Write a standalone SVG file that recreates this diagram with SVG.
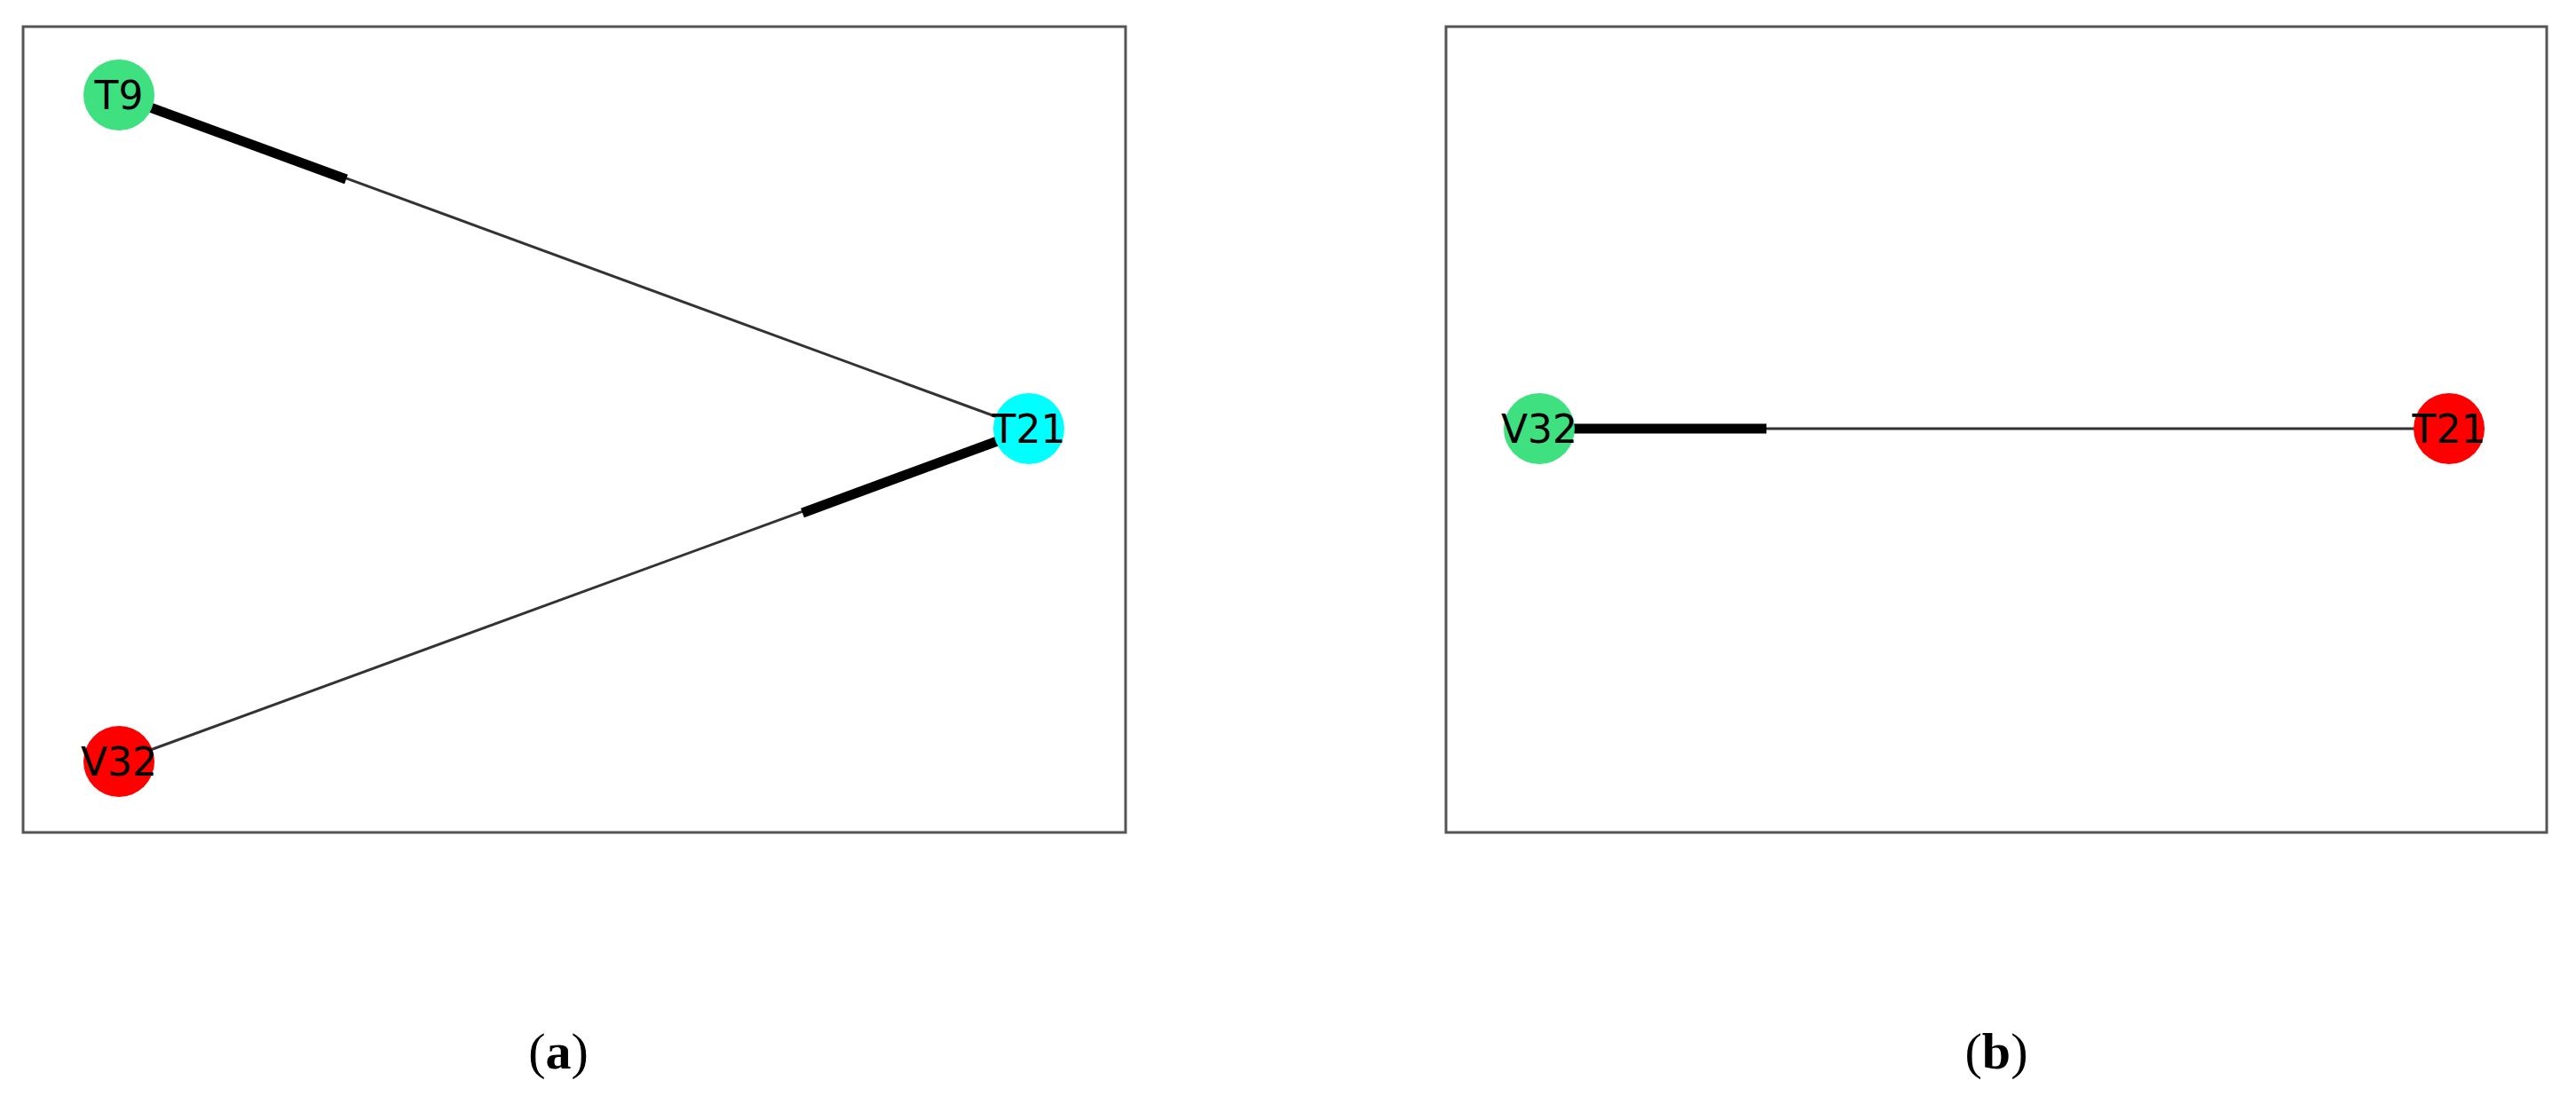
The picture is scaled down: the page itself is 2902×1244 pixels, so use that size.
<svg xmlns="http://www.w3.org/2000/svg" width="2902" height="1244" viewBox="0 0 2902 1244">
<style>
.frame{fill:none;stroke:#555;stroke-width:3}
.thin{stroke:#333;stroke-width:3}
.thick{stroke:#000;stroke-width:11}
.lbl{font-family:"DejaVu Sans",sans-serif;font-size:44px;text-anchor:middle;dominant-baseline:central;fill:#000}
.cap{font-family:"Liberation Serif",serif;font-size:58px;text-anchor:middle}
</style>
<rect width="2902" height="1244" fill="#fff"/>
<rect class="frame" x="26" y="30" width="1242" height="908"/>
<rect class="frame" x="1629" y="30" width="1240" height="908"/>
<g id="connectors">
<line class="thin" x1="134" y1="107" x2="1159" y2="483"/>
<line class="thick" x1="150" y1="114" x2="390" y2="202"/>
<line class="thin" x1="134" y1="858" x2="1159" y2="483"/>
<line class="thick" x1="1140" y1="491" x2="904" y2="578"/>
<line class="thin" x1="1734" y1="483" x2="2759" y2="483"/>
<line class="thick" x1="1760" y1="483" x2="1990" y2="483"/>
</g>
<g id="a_T9"><circle cx="134" cy="107" r="40" fill="#3ee07f"/><text class="lbl" x="134" y="107">T9</text></g>
<g id="a_T21"><circle cx="1159" cy="483" r="40" fill="#00ffff"/><text class="lbl" x="1159" y="483">T21</text></g>
<g id="a_V32"><circle cx="134" cy="858" r="40" fill="#ff0000"/><text class="lbl" x="134" y="858">V32</text></g>
<g id="b_V32"><circle cx="1734" cy="483" r="40" fill="#3ee07f"/><text class="lbl" x="1734" y="483">V32</text></g>
<g id="b_T21"><circle cx="2759" cy="483" r="40" fill="#ff0000"/><text class="lbl" x="2759" y="483">T21</text></g>
<text class="cap" x="629" y="1204">(<tspan font-weight="bold">a</tspan>)</text>
<text class="cap" x="2249" y="1204">(<tspan font-weight="bold">b</tspan>)</text>
</svg>
